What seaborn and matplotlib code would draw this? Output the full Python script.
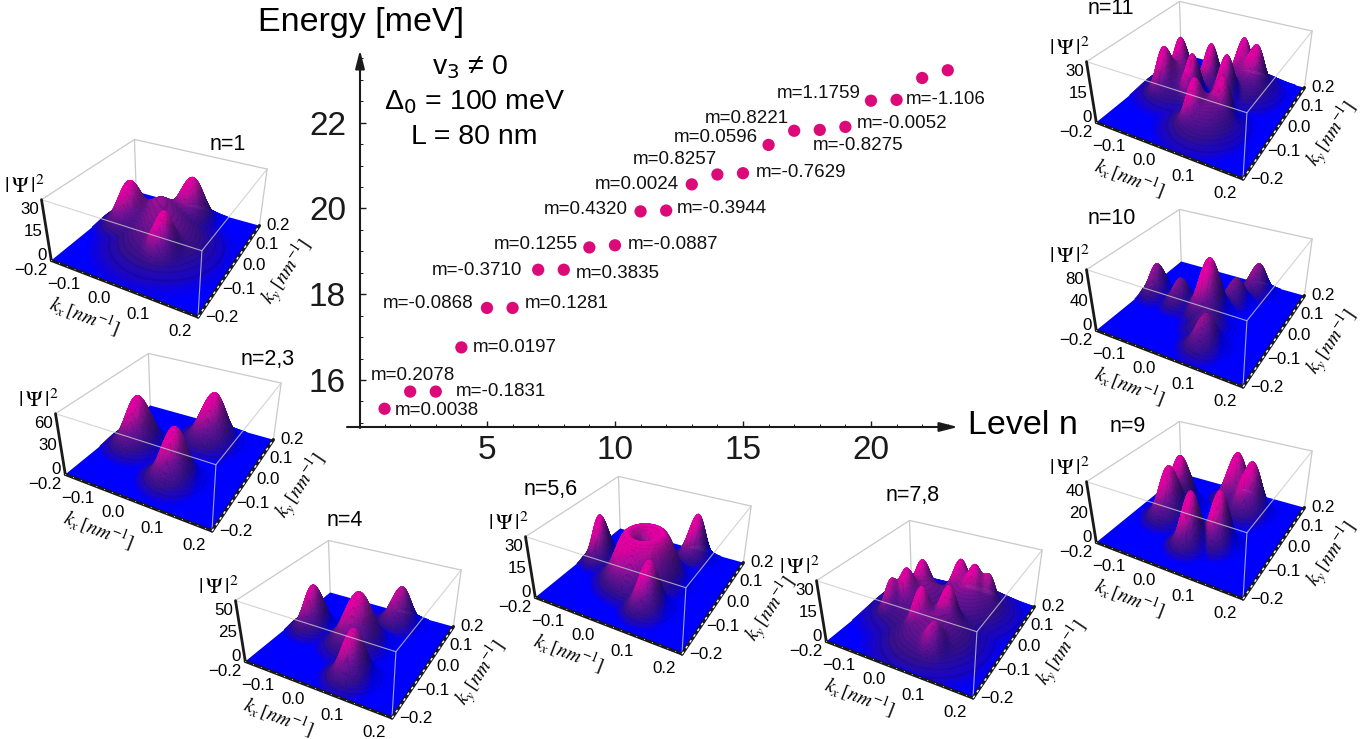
import numpy as np
import pandas as pd
import matplotlib
matplotlib.use("Agg")
import matplotlib.pyplot as plt
import seaborn as sns
from matplotlib.colors import LinearSegmentedColormap
from mpl_toolkits.mplot3d import proj3d
from mpl_toolkits.mplot3d.art3d import Poly3DCollection

W, H = 1366, 739

# Energy levels
levels = list(range(1, 24))
energy = [15.33, 15.73, 15.73, 16.76, 17.68, 17.68, 18.57, 18.57, 19.09, 19.14, 19.93, 19.95,
          20.56, 20.79, 20.82, 21.48, 21.81, 21.83, 21.90, 22.51, 22.53, 23.04, 23.22]
m_labels = ["m=0.0038", "m=0.2078", "m=-0.1831", "m=0.0197", "m=-0.0868", "m=0.1281", "m=-0.3710",
            "m=0.3835", "m=0.1255", "m=-0.0887", "m=0.4320", "m=-0.3944", "m=0.0024", "m=0.8257",
            "m=-0.7629", "m=0.0596", "m=0.8221", "m=-0.8275", "m=-0.0052", "m=1.1759", "m=-1.106"]
# label offset from its dot, pixels (left edge of text, up is positive)
label_off = [(10, -2), (-39, 16), (20, 0), (11, 0), (-104, 4), (12, 4), (-106, -1), (12, -4), (-96, 3),
             (13, 1), (-97, 2), (11, 2), (-97, 0), (-85, 15), (13, 1), (-95, 7), (-89, 12), (-7, -16),
             (11, 3), (-94, 7), (9, 0)]

x_ticks = [5, 10, 15, 20]
y_ticks = [16, 18, 20, 22]

# Density lobes of each inset: kx, ky, height (fraction of z axis), width
peaks_1 = [(-0.11, 0.03, 0.78, 0.03), (0.025, 0.125, 0.78, 0.03), (0.04, -0.06, 0.76, 0.024),
           (-0.04, 0.07, 0.46, 0.04), (0.02, -0.01, 0.4, 0.06), (-0.01, 0.03, 0.42, 0.05)]
peaks_23 = [(-0.11, 0.0, 0.84, 0.03), (0.055, 0.11, 0.84, 0.03), (0.045, -0.085, 0.84, 0.027)]
peaks_4 = [(-0.13, 0.009, 0.75, 0.024), (0.01, 0.0, 0.87, 0.032), (0.065, 0.14, 0.66, 0.024),
           (0.065, -0.125, 0.78, 0.024)]
peaks_56 = [(-0.147, 0.02, 0.8, 0.02), (0.075, 0.155, 0.78, 0.02), (0.068, -0.105, 0.78, 0.022)]
ring_56 = (0.045, 0.78, 0.032)
peaks_78 = [(-0.075, 0.061, 0.74, 0.02), (0.01, 0.116, 0.74, 0.02), (-0.088, 0.002, 0.74, 0.02),
            (0.06, 0.097, 0.74, 0.02), (-0.007, -0.06, 0.76, 0.02), (0.048, -0.025, 0.76, 0.02),
            (-0.118, -0.022, 0.62, 0.018), (0.095, 0.11, 0.62, 0.018), (0.065, -0.125, 0.55, 0.02),
            (-0.06, 0.03, 0.5, 0.055), (0.05, 0.09, 0.5, 0.055), (0.04, -0.07, 0.46, 0.055)]
peaks_9 = [(-0.103, 0.045, 0.87, 0.024), (0.022, 0.133, 0.87, 0.024), (-0.098, -0.017, 0.87, 0.024),
           (0.077, 0.104, 0.87, 0.024), (0.012, -0.095, 0.87, 0.02), (0.07, -0.06, 0.87, 0.02)]
peaks_10 = [(-0.155, 0.009, 0.55, 0.02), (-0.075, -0.001, 0.46, 0.02), (0.01, 0.0, 0.92, 0.024),
            (0.05, 0.075, 0.44, 0.02), (0.08, 0.15, 0.52, 0.02), (0.044, -0.06, 0.32, 0.026),
            (0.07, -0.125, 0.54, 0.022)]
peaks_11 = [(-0.104, 0.049, 0.8, 0.018), (-0.116, -0.013, 0.8, 0.02), (-0.021, 0.065, 0.8, 0.018),
            (-0.036, -0.006, 0.8, 0.018), (0.038, 0.038, 0.78, 0.018), (0.04, 0.136, 0.78, 0.018),
            (0.088, 0.109, 0.78, 0.02), (0.022, -0.096, 0.76, 0.018), (0.078, -0.06, 0.76, 0.018),
            (-0.093, 0.02, 0.5, 0.04), (0.067, 0.11, 0.5, 0.04), (0.052, -0.08, 0.5, 0.04)]

panel_titles = ["n=1", "n=2,3", "n=4", "n=5,6", "n=7,8", "n=9", "n=10", "n=11"]
panel_peaks = [peaks_1, peaks_23, peaks_4, peaks_56, peaks_78, peaks_9, peaks_10, peaks_11]
panel_ztop = [30, 60, 50, 30, 30, 40, 80, 30]
panel_zmid = [15, 30, 25, 15, 15, 20, 40, 15]

# pixel spots: front corner of each inset and centre of its title
panel_corner = [(198, 317), (212, 531), (392, 718), (682, 654), (973, 698), (1243, 599), (1243, 387), (1243, 179)]
title_pos = [(228, 144), (268, 360), (345, 520), (551, 489), (913, 495), (1128, 427), (1112, 218), (1111, 9)]

k_ticks = [-0.2, -0.1, 0.0, 0.1, 0.2]

surf_cmap = LinearSegmentedColormap.from_list(
    "psi", [(0.0, "#0000ff"), (0.04, "#1a06c8"), (0.18, "#38128c"), (0.5, "#701590"),
            (0.8, "#bc0f9c"), (1.0, "#e800a6")])


def density(X, Y, peaks, ring=None):
    # lobes are merged with a soft maximum so the tops keep the height they were read at
    parts = [h * np.exp(-((X - kx) ** 2 + (Y - ky) ** 2) / (2 * (1.15 * w) ** 2)) for kx, ky, h, w in peaks]
    if ring is not None:
        r, h, w = ring
        parts.append(h * np.exp(-(np.hypot(X, Y) - r) ** 2 / (2 * w ** 2)))
    return 1.03 * (np.sum(np.array(parts) ** 3, axis=0)) ** (1 / 3)


def px(x, y):
    return x / W, 1 - y / H


def tick_text(v):
    return f"{v:.1f}".replace("-", "\u2212").replace("\u22120.0", "0.0")


def screen_xy(ax, x, y, z):
    # where a point of the 3D box lands on the figure, in pixels
    x2, y2, _ = proj3d.proj_transform(x, y, z, ax.get_proj())
    return ax.transData.transform((x2, y2))


def text_3d(fig, ax, x, y, z, s, **kw):
    sx, sy = screen_xy(ax, x, y, z)
    fig.text(sx / W, sy / H, s, **kw)


def edge_angle(ax, p0, p1):
    a = screen_xy(ax, *p0)
    b = screen_xy(ax, *p1)
    return np.degrees(np.arctan2(b[1] - a[1], b[0] - a[0]))


def draw_panel(fig, idx):
    size = 300
    ax = fig.add_axes([0, 0, size / W, size / H], projection="3d")
    ax.set_proj_type("persp", focal_length=0.28)
    ax.view_init(elev=32, azim=-61)
    ax.set_xlim(-0.2, 0.2)
    ax.set_ylim(-0.2, 0.2)
    ztop = panel_ztop[idx]
    ax.set_zlim(0, ztop)
    ax.set_box_aspect((1, 1, 0.435), zoom=0.76)
    ax.set_axis_off()
    ax.patch.set_visible(False)
    ax.computed_zorder = False

    # slide the axes so the front corner lands where it is in the reference
    ax.apply_aspect()
    fx, fy = panel_corner[idx]
    dx, dy = screen_xy(ax, 0.2, -0.2, 0)
    pos = ax.get_position()
    ax.set_position([pos.x0 + (fx - dx) / W, pos.y0 + (H - fy - dy) / H, pos.width, pos.height])
    ax.apply_aspect()

    grid = np.linspace(-0.2, 0.2, 201)
    X, Y = np.meshgrid(grid, grid)
    ring = ring_56 if idx == 3 else None
    Z = density(X, Y, panel_peaks[idx], ring)
    top = Z.max()

    # colour by height, pushed around by the side the light comes from
    gy, gx = np.gradient(Z, grid, grid)
    slope = 0.873 * gx + 0.488 * gy
    t = np.clip(Z / top + 0.02 * slope, 0, 1)
    rgb = surf_cmap(t)[:, :, :3]
    rgb *= np.clip(1 + 0.016 * slope, 0.5, 1.0)[:, :, None]
    band = (Z * 26) % 1 < 0.22
    rgb[band & (Z > 0.012)] *= 0.88

    keep = Z[:-1, :-1] > 0.006
    ii, jj = np.nonzero(keep)
    verts = np.stack([
        np.stack([X[ii, jj], Y[ii, jj], Z[ii, jj] * ztop], axis=1),
        np.stack([X[ii, jj + 1], Y[ii, jj + 1], Z[ii, jj + 1] * ztop], axis=1),
        np.stack([X[ii + 1, jj + 1], Y[ii + 1, jj + 1], Z[ii + 1, jj + 1] * ztop], axis=1),
        np.stack([X[ii + 1, jj], Y[ii + 1, jj], Z[ii + 1, jj] * ztop], axis=1),
    ], axis=1)
    colors = rgb[ii, jj]

    e = 0.2
    gray = "#c9c9c9"
    # box lines behind the floor
    ax.plot([-e, -e], [e, e], [0, ztop], color=gray, lw=0.9, zorder=0.2)
    ax.plot([-e, -e, e], [-e, e, e], [ztop, ztop, ztop], color=gray, lw=0.9, zorder=0.2)
    ax.plot([e, e], [e, e], [0, ztop], color=gray, lw=0.9, zorder=0.2)

    floor = Poly3DCollection([[(-e, -e, 0), (e, -e, 0), (e, e, 0), (-e, e, 0)]], facecolors="#0000ff",
                             edgecolors="none", zorder=0.5)
    ax.add_collection3d(floor)
    surf = Poly3DCollection(verts, facecolors=colors, edgecolors=colors, linewidths=0.25, zorder=1)
    ax.add_collection3d(surf)

    # box lines in front of the surface
    ax.plot([-e, e, e], [-e, -e, e], [ztop, ztop, ztop], color=gray, lw=0.8, alpha=0.8, zorder=3)
    ax.plot([e, e], [-e, -e], [0, ztop], color=gray, lw=0.8, alpha=0.8, zorder=3)

    # black axes
    ax.plot([-e, e], [-e, -e], [0, 0], color="k", lw=2.2, zorder=4, solid_capstyle="round")
    ax.plot([-e, e], [-e, -e], [0, 0], color="w", lw=0.6, ls=(0, (1, 9)), zorder=5)
    ax.plot([e, e], [-e, e], [0, 0], color="k", lw=2.4, zorder=4)
    ax.plot([e, e], [-e, e], [0, 0], color="w", lw=1.0, ls=(0, (2, 3)), zorder=5)
    ax.plot([-e, -e], [-e, -e], [0, ztop], color="k", lw=2.0, zorder=4)

    fs = 12.2
    for v in k_ticks:
        text_3d(fig, ax, v - 0.015, -e - 0.055, 0, tick_text(v), ha="center", va="center", fontsize=fs)
        text_3d(fig, ax, e + 0.045, v + 0.024, 0, tick_text(v), ha="center", va="center", fontsize=fs)
    for z_pos, z_val in zip([0.1, 0.5, 0.85], [0, panel_zmid[idx], ztop]):
        text_3d(fig, ax, -e - 0.006, -e - 0.006, z_pos * ztop, str(z_val), ha="right", va="center", fontsize=fs)

    # axis names lie along their own edge of the floor
    kx_rot = edge_angle(ax, (-e, -e, 0), (e, -e, 0))
    ky_rot = edge_angle(ax, (e, -e, 0), (e, e, 0))
    text_3d(fig, ax, -0.012, -e - 0.112, 0, r"$k_x\,[nm^{-1}]$", rotation=kx_rot, ha="center", va="center", fontsize=14)
    text_3d(fig, ax, e + 0.122, 0.04, 0, r"$k_y\,[nm^{-1}]$", rotation=ky_rot, ha="center", va="center", fontsize=14)
    text_3d(fig, ax, -e - 0.028, -e - 0.017, 1.2 * ztop, r"$|\,\Psi\,|^2$", ha="center", va="center", fontsize=16)

    tx, ty = px(*title_pos[idx])
    fig.text(tx, ty, panel_titles[idx], ha="center", va="center", fontsize=15.5)


sns.set_theme(style="white")
plt.rcParams["font.family"] = ["Liberation Sans", "DejaVu Sans"]
plt.rcParams["mathtext.fontset"] = "stix"
plt.rcParams["text.color"] = "black"

fig = plt.figure(figsize=(W / 100, H / 100), dpi=100)

for i in range(len(panel_titles)):
    draw_panel(fig, i)

# main spectrum; axes rectangle starts at the axis cross point
left, right, top, bottom = 360, 958, 50, 427
ax = fig.add_axes([left / W, 1 - bottom / H, (right - left) / W, (bottom - top) / H])
ax.patch.set_alpha(0)
df = pd.DataFrame({"level": levels, "energy": energy})
sns.scatterplot(data=df, x="level", y="energy", color="#dc0a78", s=78, edgecolor="none", ax=ax, clip_on=False, zorder=3)
ax.set_xlim(0.04, 0.04 + (right - left) / 25.6)
ax.set_ylim(16 - (bottom - 380) / 42.9, 16 + (380 - top) / 42.9)
ax.set_xlabel("")
ax.set_ylabel("")
sns.despine(ax=ax, left=True, bottom=True)

ax.set_xticks(x_ticks)
ax.set_yticks(y_ticks)
ax.set_xticks(np.arange(1, 24), minor=True)
ax.set_yticks(np.arange(15, 24, 0.5), minor=True)
ax.tick_params(axis="both", which="major", direction="in", length=4, width=1, labelsize=24, left=True, bottom=True, color="k", labelcolor="k")
ax.tick_params(axis="both", which="minor", direction="in", length=2, width=0.7, left=True, bottom=True, color="k")
ax.tick_params(axis="x", pad=6)
ax.tick_params(axis="y", pad=10)

arrow = dict(arrowstyle="-|>,head_length=1.1,head_width=0.28", color="k", lw=1.5, shrinkA=0, shrinkB=0, mutation_scale=10)
ax.annotate("", xy=(1, 0), xytext=(-13 / (right - left), 0), xycoords="axes fraction", textcoords="axes fraction", arrowprops=arrow)
ax.annotate("", xy=(0, 1), xytext=(0, -1 / (bottom - top)), xycoords="axes fraction", textcoords="axes fraction", arrowprops=arrow)

for lev, e_val, txt, off in zip(levels, energy, m_labels, label_off):
    ax.annotate(txt, (lev, e_val), xytext=(off[0] * 0.72, off[1] * 0.72), textcoords="offset points",
                ha="left", va="center", fontsize=13.5, color="#111111")

fig.text(*px(258, 22), "Energy [meV]", ha="left", va="center", fontsize=24.5)
fig.text(*px(968, 426), "Level n", ha="left", va="center", fontsize=24.5)
fig.text(*px(470, 67), "v$_3$ \u2260 0", ha="center", va="center", fontsize=20.5, math_fontfamily="dejavusans")
fig.text(*px(475, 102), "\u0394$_0$ = 100 meV", ha="center", va="center", fontsize=20.5, math_fontfamily="dejavusans")
fig.text(*px(474, 137), "L = 80 nm", ha="center", va="center", fontsize=20.5)

fig.savefig("out.png", dpi=100)
